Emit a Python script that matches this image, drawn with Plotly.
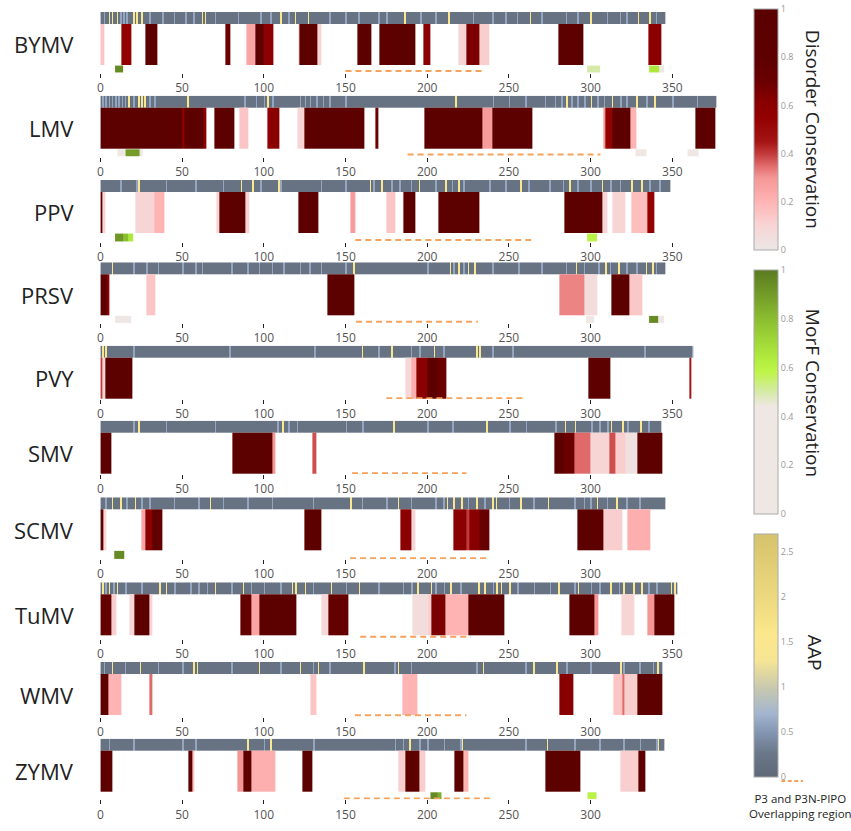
import plotly.graph_objects as go

# ---------------- data ----------------
VIRUSES = ["BYMV", "LMV", "PPV", "PRSV", "PVY", "SMV", "SCMV", "TuMV", "WMV", "ZYMV"]
LENGTHS = [346, 377, 349, 346, 363, 343, 346, 353, 344, 345]

TICKS_350 = [0, 50, 100, 150, 200, 250, 300, 350]
TICKS_300 = [0, 50, 100, 150, 200, 250, 300]
PANEL_TICKS = [TICKS_350, TICKS_350, TICKS_350, TICKS_300, TICKS_350,
               TICKS_300, TICKS_300, TICKS_350, TICKS_300, TICKS_300]

# disorder conservation segments (start, end, value)
DIS_BYMV = [(0, 2.5, 0.15), (13, 18.7, 0.55), (27.8, 35, 0.82), (76.6, 79.6, 0.7), (89.4, 95, 0.25),
            (95, 100, 0.85), (100, 106, 0.6), (121, 122, 0.1), (122, 132.5, 0.82), (132.5, 135, 0.1),
            (157.5, 165.6, 0.82), (170.7, 192.9, 0.85), (197.5, 202, 0.6), (219, 224, 0.1),
            (224, 232, 0.65), (232, 238, 0.12), (280, 295.5, 0.85), (335.4, 343.3, 0.6)]
DIS_LMV = [(0, 50, 0.85), (50, 51.2, 0.55), (51.2, 63, 0.85), (63, 64.8, 0.6), (70, 81.7, 0.85),
           (84.8, 90.4, 0.15), (102, 104, 0.55), (104, 109.5, 0.62), (120.7, 124.8, 0.1),
           (124.8, 161.6, 0.85), (168, 170, 0.7), (198.5, 234, 0.85), (234, 239.6, 0.28),
           (239.6, 264.6, 0.85), (308, 309, 0.3), (309, 313.4, 0.55), (313.4, 324.6, 0.85),
           (324.6, 328, 0.2), (364, 376.4, 0.85)]
DIS_PPV = [(0, 1.4, 0.8), (1.4, 3, 0.1), (21.7, 33, 0.1), (33, 39, 0.2), (71, 72.6, 0.1),
           (72.6, 88.8, 0.85), (88.8, 91, 0.1), (121, 133.5, 0.85), (153.2, 156.3, 0.28),
           (175, 180.7, 0.15), (185.7, 193, 0.82), (206.7, 232, 0.85), (284, 307.3, 0.85),
           (307.3, 310, 0.1), (313.4, 321.5, 0.1), (325, 334.7, 0.17), (334.7, 338.8, 0.55)]
DIS_PRSV = [(0, 4, 0.85), (4, 5.5, 0.55), (28, 33.5, 0.15), (138.7, 155.5, 0.85), (281, 296, 0.32),
            (296, 304, 0.06), (312.8, 324, 0.85), (324, 331.7, 0.14)]
DIS_PVY = [(0, 1.5, 0.4), (1.5, 3, 0.1), (3, 19.3, 0.85), (186.4, 190, 0.08), (190, 193.5, 0.22),
           (193.5, 200, 0.6), (200, 206, 0.85), (206, 211.8, 0.7), (298.8, 311.8, 0.85),
           (360.7, 361.8, 0.45)]
DIS_SMV = [(0, 7, 0.85), (81, 105.5, 0.85), (105.5, 107, 0.3), (129.5, 131.9, 0.38),
           (277.8, 284, 0.85), (284, 290, 0.7), (290, 300, 0.35), (300, 311.3, 0.1),
           (311.3, 315.4, 0.38), (315.4, 321.5, 0.12), (321.5, 328.7, 0.03), (328.7, 343.9, 0.85)]
DIS_SCMV = [(0, 1.8, 0.85), (1.8, 3.5, 0.1), (25, 27.8, 0.25), (27.8, 32, 0.6), (32, 38, 0.78),
            (125, 135, 0.85), (183.7, 190, 0.6), (190, 193, 0.1), (215.8, 224, 0.6), (224, 226, 0.4),
            (226, 232, 0.62), (232, 238.2, 0.72), (292, 308, 0.8), (308, 319.5, 0.12),
            (322.5, 336.8, 0.22)]
DIS_TUMV = [(0, 6.5, 0.75), (6.5, 10, 0.12), (18, 21, 0.08), (21, 30, 0.85), (30, 32, 0.1),
            (85.8, 92.5, 0.75), (92.5, 97.3, 0.25), (97.3, 119.7, 0.85), (135, 139.6, 0.08),
            (139.6, 151.8, 0.75), (191, 200.6, 0.06), (200.6, 202.6, 0.12), (202.6, 211.2, 0.65),
            (211.2, 225, 0.2), (225, 247.3, 0.85), (287, 302, 0.85), (302, 305, 0.3),
            (318.5, 326.6, 0.1), (334.7, 338.8, 0.3), (338.8, 351, 0.85)]
DIS_WMV = [(0, 4.8, 0.85), (4.8, 12.6, 0.2), (30, 32, 0.35), (128.4, 132, 0.15), (184.6, 194, 0.2),
           (281, 289.5, 0.62), (313.8, 319.5, 0.15), (319.5, 320.5, 0.35), (320.5, 328.7, 0.12),
           (328.7, 343.8, 0.85)]
DIS_ZYMV = [(0, 7.5, 0.85), (53.7, 56.5, 0.82), (56.5, 57.5, 0.15), (83.7, 87.8, 0.3),
            (87.8, 92.3, 0.85), (92.3, 106.9, 0.22), (123.7, 130, 0.85), (182.4, 186.6, 0.12),
            (186.6, 195, 0.85), (195, 199, 0.12), (216.8, 222.4, 0.85), (222.4, 225, 0.2),
            (272, 293.7, 0.85), (318, 329.2, 0.12), (329.2, 333.4, 0.82)]
DISORDER = [DIS_BYMV, DIS_LMV, DIS_PPV, DIS_PRSV, DIS_PVY, DIS_SMV, DIS_SCMV, DIS_TUMV, DIS_WMV, DIS_ZYMV]

# MoRF conservation segments (start, end, value)
MORF_BYMV = [(9, 14, 0.95), (298, 305.7, 0.5), (335.7, 342, 0.65), (342, 345, 0.2)]
MORF_LMV = [(10.5, 15.6, 0.2), (15.6, 23.8, 0.9), (23.8, 26, 0.2), (327.7, 334.3, 0.25), (359, 366, 0.25)]
MORF_PPV = [(9, 14, 0.92), (14, 17, 0.8), (17, 20, 0.65), (298, 303.7, 0.6)]
MORF_PRSV = [(9, 18.7, 0.2), (297, 302, 0.15), (335.7, 341, 0.95), (341, 345, 0.2)]
MORF_SCMV = [(8.5, 14.6, 0.95)]
MORF_ZYMV = [(202, 206, 0.95), (206, 209, 0.85), (298, 303.5, 0.6)]
MORF = [MORF_BYMV, MORF_LMV, MORF_PPV, MORF_PRSV, [], [], MORF_SCMV, [], [], MORF_ZYMV]

# AAP: residues with high (yellow) and medium (light blue) AAP; others at base level
AAP_BASE = 0.18
AAP_HIGH_VALUE = 1.45
AAP_MID_VALUE = 0.6
AAP_HIGH = [
    [5, 7, 10, 20, 22, 25, 62, 64, 110, 119, 127, 186, 213, 263, 300, 329, 336],
    [17, 23, 25, 27, 53, 102, 217, 285, 300, 313, 328, 339],
    [23, 86, 93, 109, 165, 172, 195, 211, 219, 257, 287, 307, 325, 331],
    [7, 155, 214, 219, 225, 229, 291, 309, 317, 334, 338],
    [1, 3, 160, 178, 204, 230, 232],
    [23, 111, 179, 236, 284, 290, 312, 319, 330],
    [7, 12, 21, 67, 153, 182, 212, 216, 221, 230, 240, 242, 257, 274, 304, 316],
    [1, 5, 10, 36, 40, 70, 87, 117, 119, 125, 141, 158, 194, 202, 214, 231, 235, 242, 245, 250,
     280, 292, 312, 320, 326, 331, 349, 351],
    [7, 24, 57, 59, 97, 122, 133, 161, 182, 234, 265, 279, 318, 341],
    [90, 104, 189, 221, 273, 341],
]
AAP_MID = [
    [2, 12, 14, 16, 30, 38, 45, 52, 57, 70, 84, 98, 104, 115, 140, 150, 158, 170, 175, 196, 205,
     228, 240, 248, 255, 270, 285, 292, 310, 318, 322, 340],
    [1, 3, 5, 7, 9, 11, 13, 15, 20, 30, 33, 88, 95, 100, 105, 122, 125, 128, 132, 136, 140, 150,
     240, 250, 260, 272, 278, 282, 288, 292, 296, 304, 308, 318, 322, 334, 350, 365],
    [12, 22, 40, 58, 75, 98, 110, 135, 150, 167, 178, 183, 190, 205, 215, 222, 238, 248, 262, 275,
     283, 292, 300, 312, 318, 336, 342],
    [20, 28, 35, 50, 58, 62, 80, 90, 97, 105, 112, 122, 128, 135, 150, 200, 216, 222, 240, 256,
     270, 285, 296, 305, 312, 322, 328, 340],
    [20, 79, 131, 170, 190, 195, 210, 240, 252, 333, 362],
    [20, 40, 70, 108, 115, 120, 150, 160, 200, 215, 250, 260, 278, 300, 305, 310, 322, 335],
    [3, 16, 25, 30, 45, 60, 75, 90, 105, 130, 160, 175, 190, 205, 210, 225, 235, 250, 265, 290,
     296, 300, 310, 322, 330],
    [3, 8, 15, 25, 45, 55, 60, 65, 80, 92, 100, 110, 130, 150, 170, 185, 190, 205, 210, 220, 240,
     255, 265, 275, 290, 300, 305, 317, 335, 340],
    [2, 15, 35, 50, 80, 110, 130, 140, 180, 190, 230, 260, 285, 300, 320, 330, 338],
    [5, 20, 50, 58, 100, 130, 180, 185, 195, 200, 210, 220, 260, 290, 305, 320, 330, 340],
]

# P3 / P3N-PIPO overlapping region (start, end)
P3N_PIPO = [(150, 235), (188, 306), (156, 263.6), (156.5, 231), (175, 260.5),
            (154, 224), (152.8, 238), (159, 226.6), (155.8, 224), (149, 239.7)]

# ---------------- layout constants (pixels) ----------------
W, H = 851, 831
X_LEFT, X_RIGHT = 97.7, 97.7 + 380 * 1.64
X_MAX = 380
PANEL_TOP = [12, 95.7, 180, 262.3, 345.7, 420.7, 497.3, 582.3, 662, 738.7]
PANEL_BOTTOM = [72.7, 156.7, 241.7, 323, 399, 474, 559, 639, 716.7, 799.3]
DASH_PX = [71, 154.5, 240, 321.7, 398.3, 473.3, 558.3, 636.7, 715.3, 798.6]

DIS_SCALE = [[0, '#ece6e6'], [0.1, '#f8d5d5'], [0.2, '#ffb4b4'], [0.3, '#f59696'],
             [0.35, '#e06a6a'], [0.4, '#c23a3a'], [0.45, '#a41414'], [0.55, '#930000'],
             [0.62, '#880000'], [0.7, '#6a0000'], [0.8, '#5d0000'], [1, '#5a0000']]
MORF_SCALE = [[0, '#efe7e3'], [0.44, '#efe7e3'], [0.5, '#d6eaa8'], [0.58, '#bff54a'],
              [0.63, '#b2ee3e'], [0.8, '#8bbd30'], [1, '#5a7a20']]
AAP_SCALE = [[0, '#5e6978'], [0.1, '#6b7889'], [0.185, '#8396b2'], [0.26, '#a3b5cf'],
             [0.37, '#c9c9ae'], [0.48, '#f6e594'], [0.59, '#fbe78c'], [0.74, '#ecd97f'],
             [1, '#d5c26c']]


def seg_arrays(segs):
    edges, z = [], []
    for s, e, v in sorted(segs):
        if not edges:
            edges.append(s)
        elif s > edges[-1]:
            z.append(None)
            edges.append(s)
        else:
            s = edges[-1]
        z.append(v)
        edges.append(e)
    return edges, z


fig = go.Figure()
annotations = []
for i, name in enumerate(VIRUSES):
    sfx = '' if i == 0 else str(i + 1)
    xa, ya = 'x' + sfx, 'y' + sfx
    top, bot = PANEL_TOP[i], PANEL_BOTTOM[i]
    span = bot - top

    # AAP row
    L = LENGTHS[i]
    aap = [AAP_BASE] * L
    for p in AAP_MID[i]:
        if p < L:
            aap[p] = AAP_MID_VALUE
    for p in AAP_HIGH[i]:
        if p < L:
            aap[p] = AAP_HIGH_VALUE
    fig.add_trace(go.Heatmap(x=list(range(L + 1)), y=[-12, 0], z=[aap], coloraxis='coloraxis3',
                             xaxis=xa, yaxis=ya, hoverinfo='skip'))

    # Disorder row
    ed, zd = seg_arrays(DISORDER[i])
    fig.add_trace(go.Heatmap(x=ed, y=[-52.7, -12], z=[zd], coloraxis='coloraxis',
                             xaxis=xa, yaxis=ya, hoverinfo='skip'))

    # MoRF row
    if MORF[i]:
        em, zm = seg_arrays(MORF[i])
        fig.add_trace(go.Heatmap(x=em, y=[-span, -53.6], z=[zm], coloraxis='coloraxis2',
                                 xaxis=xa, yaxis=ya, hoverinfo='skip'))

    # P3N-PIPO overlap line
    s, e = P3N_PIPO[i]
    yd = -(DASH_PX[i] - top)
    fig.add_trace(go.Scatter(x=[s, e], y=[yd, yd], mode='lines',
                             line=dict(color='#f5a35c', width=2, dash='6px,4px'),
                             xaxis=xa, yaxis=ya, hoverinfo='skip', showlegend=False))

    fig.layout['xaxis' + sfx] = dict(
        domain=[X_LEFT / W, X_RIGHT / W], range=[0, X_MAX], anchor=ya,
        showgrid=False, zeroline=False, showline=False,
        ticks='outside', ticklen=4, tickwidth=1, tickcolor='#222',
        tickvals=PANEL_TICKS[i], ticktext=[str(t) for t in PANEL_TICKS[i]],
        tickfont=dict(size=12, color='#555', family='Open Sans'))
    fig.layout['yaxis' + sfx] = dict(
        domain=[1 - bot / H, 1 - top / H], range=[-span, 0], anchor=xa,
        showgrid=False, zeroline=False, showline=False, showticklabels=False, ticks='')

    annotations.append(dict(text=name, xref='paper', yref='paper', x=73 / W,
                            y=1 - (top + 32.5) / H, xanchor='right', yanchor='middle',
                            showarrow=False, font=dict(size=22, color='#222', family='Open Sans')))

# legend sample for the overlapping-region line (own small axis)
fig.add_trace(go.Scatter(x=[0, 1], y=[0, 0], mode='lines',
                         line=dict(color='#f5a35c', width=2, dash='4px,2.5px'),
                         xaxis='x11', yaxis='y11', hoverinfo='skip', showlegend=False))
fig.layout['xaxis11'] = dict(domain=[781 / W, 803 / W], range=[0, 1], anchor='y11', visible=False)
fig.layout['yaxis11'] = dict(domain=[1 - 786 / H, 1 - 776 / H], range=[-1, 1], anchor='x11', visible=False)

cb_common = dict(thickness=24, lenmode='pixels', xanchor='left', yanchor='middle',
                 x=754 / W, xpad=0, ypad=0, outlinecolor='#aaa', outlinewidth=1,
                 ticks='', tickfont=dict(size=9, color='#999', family='Open Sans'))

fig.update_layout(
    width=W, height=H, margin=dict(l=0, r=0, t=0, b=0),
    paper_bgcolor='white', plot_bgcolor='white', showlegend=False,
    font=dict(family='Open Sans'),
    coloraxis=dict(cmin=0, cmax=1, colorscale=DIS_SCALE,
                   colorbar=dict(**cb_common, len=241, y=1 - 129.5 / H,
                                 tickvals=[0, 0.2, 0.4, 0.6, 0.8, 1],
                                 ticktext=['0', '0.2', '0.4', '0.6', '0.8', '1'])),
    coloraxis2=dict(cmin=0, cmax=1, colorscale=MORF_SCALE,
                    colorbar=dict(**cb_common, len=244, y=1 - 392 / H,
                                  tickvals=[0, 0.2, 0.4, 0.6, 0.8, 1],
                                  ticktext=['0', '0.2', '0.4', '0.6', '0.8', '1'])),
    coloraxis3=dict(cmin=0, cmax=2.7, colorscale=AAP_SCALE,
                    colorbar=dict(**cb_common, len=243, y=1 - 655.5 / H,
                                  tickvals=[0, 0.5, 1, 1.5, 2, 2.5],
                                  ticktext=['0', '0.5', '1', '1.5', '2', '2.5'])),
)

annotations += [
    dict(text='Disorder Conservation', xref='paper', yref='paper', x=813 / W, y=1 - 129 / H,
         textangle=90, showarrow=False, xanchor='center', yanchor='middle',
         font=dict(size=19, color='#222')),
    dict(text='MorF Conservation', xref='paper', yref='paper', x=813 / W, y=1 - 393 / H,
         textangle=90, showarrow=False, xanchor='center', yanchor='middle',
         font=dict(size=19, color='#222')),
    dict(text='AAP', xref='paper', yref='paper', x=815 / W, y=1 - 652 / H,
         textangle=90, showarrow=False, xanchor='center', yanchor='middle',
         font=dict(size=19, color='#222')),
    dict(text='P3 and P3N-PIPO<br>Overlapping region', xref='paper', yref='paper',
         x=800 / W, y=1 - 806 / H, showarrow=False, xanchor='center', yanchor='middle',
         align='center', font=dict(size=11.5, color='#222')),
]
fig.update_layout(annotations=annotations)

fig.write_html('out.html', config={'displayModeBar': False},
               post_script="document.body.style.margin='0';document.body.style.overflow='hidden';")
